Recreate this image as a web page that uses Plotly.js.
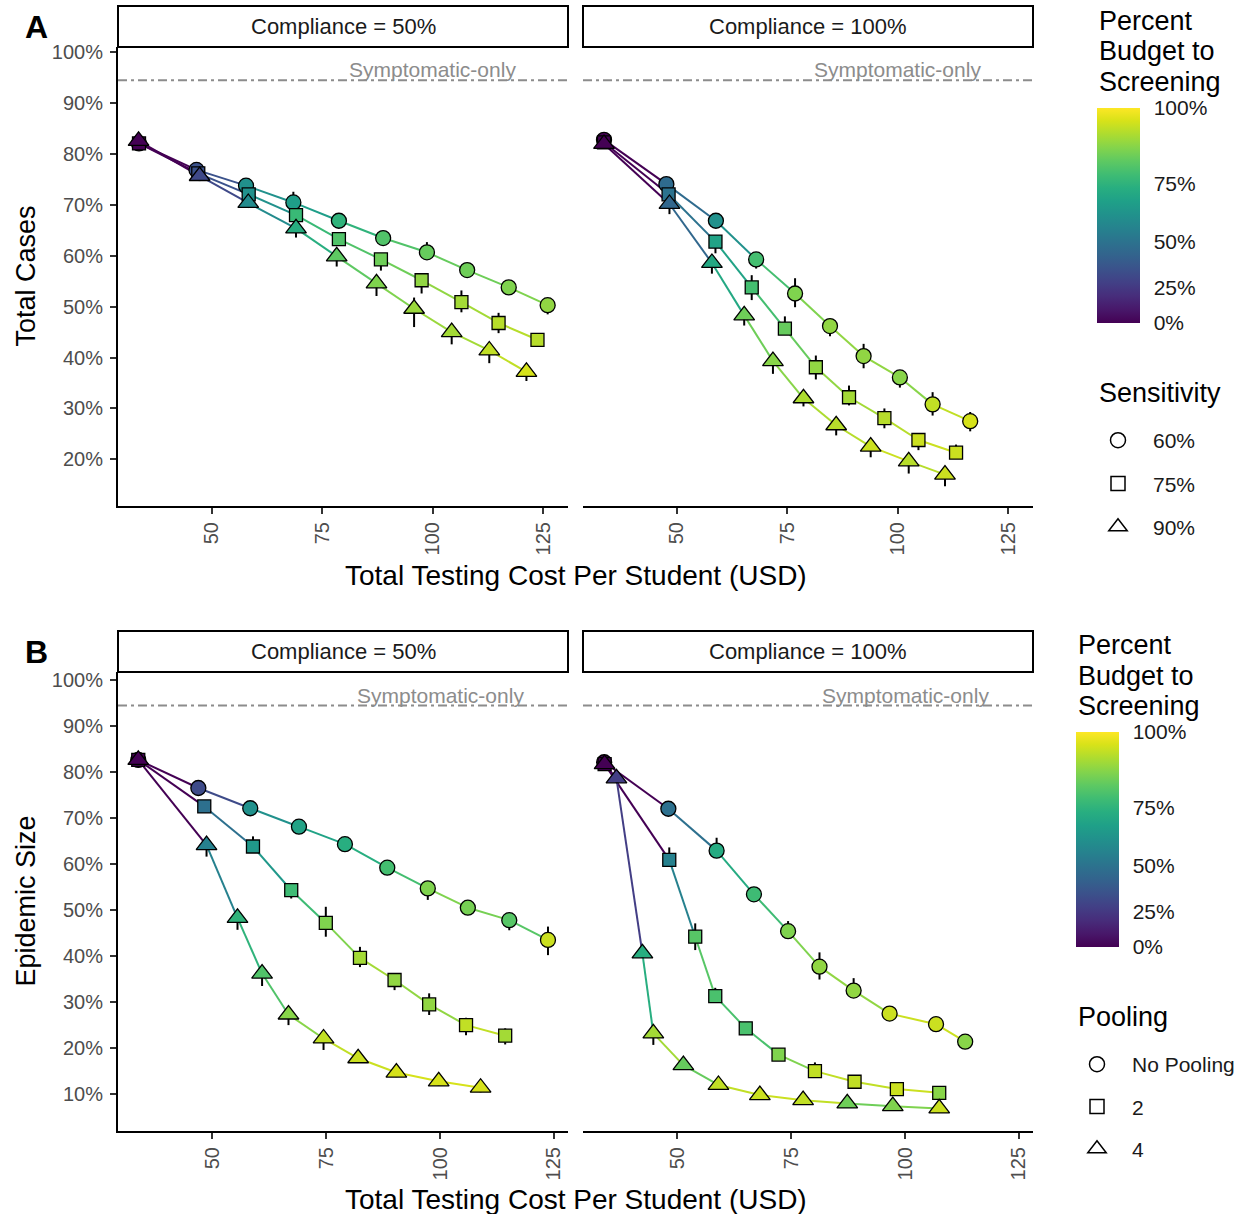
<!DOCTYPE html>
<html><head><meta charset="utf-8">
<script src="https://cdn.plot.ly/plotly-3.0.1.min.js"></script>
<style>html,body{margin:0;padding:0;background:#fff}#chart{width:1248px;height:1214px}</style>
</head><body><div id="chart"></div>
<script>
// ================= DATA =================
const complianceLabels = ['Compliance = 50%', 'Compliance = 100%'];
const sensitivityLabels = ['60%', '75%', '90%'];
const poolingLabels = ['No Pooling', '2', '4'];
const budgetTickValues = [0, 25, 50, 75, 100];
const budgetTickLabels = ['0%', '25%', '50%', '75%', '100%'];
const costTicks = [50, 75, 100, 125];
const casesTicksA = [20, 30, 40, 50, 60, 70, 80, 90, 100];
const sizeTicksB = [10, 20, 30, 40, 50, 60, 70, 80, 90, 100];
const symptomaticOnly = [94.5, 94.4]; // panel A, panel B

// Panel A, compliance 50% (Total Cases, %)
const a50_cost_s60 = [33.6, 46.6, 57.8, 68.5, 78.8, 88.8, 98.7, 107.8, 117.2, 126.0];
const a50_cases_s60 = [82.1, 76.9, 73.8, 70.5, 66.9, 63.5, 60.7, 57.2, 53.8, 50.3];
const a50_budget_s60 = [0, 36, 62, 67, 75, 81, 84, 85, 87, 89];
const a50_errUp_s60 = [1, 1, 1, 2.1, 1, 1, 2, 1, 1, 1];
const a50_errDn_s60 = [1, 1, 1, 1.2, 1, 1, 1.2, 1, 1, 1.8];
const a50_cost_s75 = [33.6, 47.0, 58.4, 69.1, 78.8, 88.3, 97.5, 106.5, 114.9, 123.7];
const a50_cases_s75 = [82.1, 76.2, 72.1, 68.0, 63.3, 59.3, 55.2, 50.9, 46.8, 43.5];
const a50_budget_s75 = [0, 36, 62, 77, 81, 85, 89, 91, 93, 93];
const a50_errUp_s75 = [1, 1, 1, 1, 1, 1.2, 1, 2.3, 2, 1];
const a50_errDn_s75 = [1, 1, 1, 1, 1, 2.2, 2.6, 2, 2, 1.2];
const a50_cost_s90 = [33.5, 47.3, 58.3, 69.1, 78.3, 87.3, 95.8, 104.3, 112.8, 121.2];
const a50_cases_s90 = [82.6, 75.7, 70.4, 65.4, 59.9, 54.6, 49.6, 45.0, 41.4, 37.2];
const a50_budget_s90 = [0, 32, 60, 73, 83, 87, 90, 91, 94, 96];
const a50_errUp_s90 = [1, 1, 1, 1, 1, 1, 2.2, 1, 1, 1];
const a50_errDn_s90 = [1, 1, 1, 1.8, 2, 2.5, 3.6, 2.4, 2.5, 1.8];

// Panel A, compliance 100%
const a100_cost_s60 = [33.6, 47.7, 58.9, 68.0, 76.8, 84.7, 92.3, 100.5, 107.9, 116.4];
const a100_cases_s60 = [82.8, 74.1, 66.9, 59.3, 52.6, 46.2, 40.3, 36.1, 30.8, 27.5];
const a100_budget_s60 = [0, 47, 62, 79, 87, 89, 89, 88, 94, 96];
const a100_errUp_s60 = [1, 1, 1, 1.4, 3, 1, 2.4, 1, 2.4, 1.8];
const a100_errDn_s60 = [1, 1, 1, 1.8, 2.7, 2, 2.4, 2, 2.2, 2];
const a100_cost_s75 = [33.6, 48.2, 58.8, 67.0, 74.5, 81.5, 89.0, 97.0, 104.7, 113.2];
const a100_cases_s75 = [82.3, 72.1, 62.8, 53.8, 45.7, 38.1, 32.2, 28.1, 23.8, 21.3];
const a100_budget_s75 = [0, 50, 69, 79, 84, 89, 91, 93, 95, 95];
const a100_errUp_s75 = [1, 1, 1, 2.4, 2.4, 2.3, 2.3, 1.9, 1, 1.6];
const a100_errDn_s75 = [1, 1, 2.3, 2.5, 1, 2.4, 1.6, 2, 2, 1];
const a100_cost_s90 = [33.6, 48.4, 58.0, 65.3, 71.8, 78.7, 86.1, 93.9, 102.5, 110.7];
const a100_cases_s90 = [82.0, 70.2, 58.6, 48.3, 39.3, 32.0, 26.7, 22.5, 19.6, 17.0];
const a100_budget_s90 = [0, 45, 71, 85, 88, 92, 93, 95, 93, 95];
const a100_errUp_s90 = [1, 1, 1, 1, 1, 1, 1, 1, 1, 1];
const a100_errDn_s90 = [1, 2, 2.1, 2, 2.5, 1.6, 2, 2.1, 2.4, 2.3];

// Panel B, compliance 50% (Epidemic Size, %)
const b50_cost_none = [33.7, 46.9, 58.3, 69.0, 79.1, 88.4, 97.3, 106.1, 115.2, 123.7];
const b50_size_none = [82.6, 76.5, 72.1, 68.1, 64.3, 59.2, 54.7, 50.5, 47.8, 43.5];
const b50_budget_none = [0, 33, 62, 69, 73, 79, 87, 86, 82, 95];
const b50_errUp_none = [1, 1, 1, 1, 1, 1, 1, 1, 1, 2.9];
const b50_errDn_none = [1, 1, 1, 1, 1, 1, 2.5, 1, 2.2, 3.3];
const b50_cost_pool2 = [33.7, 48.2, 58.9, 67.3, 74.9, 82.4, 90.0, 97.6, 105.7, 114.3];
const b50_size_pool2 = [82.6, 72.5, 63.8, 54.3, 47.2, 39.6, 34.8, 29.5, 25.0, 22.7];
const b50_budget_pool2 = [0, 49, 65, 78, 87, 91, 89, 89, 94, 91];
const b50_errUp_pool2 = [1, 1, 2.2, 1, 3.5, 2.4, 1, 2.4, 1.6, 1.6];
const b50_errDn_pool2 = [1, 1, 1, 1.8, 3, 2, 2.2, 2.3, 2.2, 1.9];
const b50_cost_pool4 = [33.7, 48.7, 55.5, 60.9, 66.7, 74.4, 82.0, 90.4, 99.7, 108.9];
const b50_size_pool4 = [82.6, 64.1, 48.3, 36.2, 27.3, 22.1, 17.8, 14.7, 12.8, 11.4];
const b50_budget_pool4 = [0, 56, 75, 81, 88, 94, 95, 96, 96, 96];
const b50_errUp_pool4 = [1, 1, 1, 1, 1, 1, 1, 1, 1, 1];
const b50_errDn_pool4 = [1, 2.5, 2.6, 2.7, 2.3, 2.5, 1, 1, 1, 1];

// Panel B, compliance 100%
const b100_cost_none = [33.9, 48.0, 58.6, 66.8, 74.3, 81.2, 88.7, 96.6, 106.8, 113.2];
const b100_size_none = [82.1, 72.0, 62.9, 53.4, 45.4, 37.7, 32.5, 27.5, 25.2, 21.4];
const b100_budget_none = [0, 49, 72, 78, 87, 89, 89, 95, 95, 88];
const b100_errUp_none = [1, 1, 2.8, 1, 2.2, 3.1, 2.7, 1, 1, 1];
const b100_errDn_none = [1, 1, 1, 1, 1, 2.8, 1, 1, 1, 1];
const b100_cost_pool2 = [34.0, 48.2, 53.9, 58.3, 65.0, 72.2, 80.2, 88.9, 98.2, 107.5];
const b100_size_pool2 = [81.7, 60.9, 44.2, 31.3, 24.3, 18.6, 15.0, 12.7, 11.1, 10.3];
const b100_budget_pool2 = [0, 56, 82, 80, 80, 87, 94, 94, 95, 88];
const b100_errUp_pool2 = [1, 2.7, 2.9, 1.8, 1, 1, 1.9, 1, 1, 1];
const b100_errDn_pool2 = [1, 1, 2.9, 1, 1, 1, 1, 1, 1, 1];
const b100_cost_pool4 = [34.0, 36.6, 42.3, 44.7, 51.3, 59.0, 68.1, 77.6, 87.3, 97.3, 107.5];
const b100_size_pool4 = [81.7, 78.6, 40.6, 23.2, 16.3, 12.0, 9.8, 8.7, 8.0, 7.4, 6.9];
const b100_budget_pool4 = [0, 27, 73, 91, 84, 94, 95, 94, 85, 87, 95];
const b100_errUp_pool4 = [1, 1, 1, 1, 1, 1, 1, 1, 1, 1, 1];
const b100_errDn_pool4 = [1, 1, 1, 2.5, 1, 1, 1, 1, 1, 1, 1];

// ================= SCALES / STYLE =================
const VIR_HEX = ['#440154','#48186a','#472d7b','#424086','#3b528b','#33638d','#2c728e','#26828e','#21918c','#1fa088','#28ae80','#3fbc73','#5ec962','#84d44b','#addc30','#d8e219','#fde725'];
const VIR_POS = VIR_HEX.map((h, i) => i === VIR_HEX.length - 1 ? 1 : i * 16 / 255);
const VIRIDIS = VIR_POS.map((p, i) => [p, VIR_HEX[i]]);
function hexToRgb(h) { return [parseInt(h.slice(1,3),16), parseInt(h.slice(3,5),16), parseInt(h.slice(5,7),16)]; }
function viridisAt(t) {
  t = Math.max(0, Math.min(1, t));
  for (let i = 0; i < VIR_POS.length - 1; i++) {
    if (t <= VIR_POS[i+1]) {
      const f = (t - VIR_POS[i]) / (VIR_POS[i+1] - VIR_POS[i]);
      const a = hexToRgb(VIR_HEX[i]), b = hexToRgb(VIR_HEX[i+1]);
      return 'rgb(' + a.map((v, k) => Math.round(v + (b[k] - v) * f)).join(',') + ')';
    }
  }
  return VIR_HEX[VIR_HEX.length - 1];
}
// exponential colour scale used by the legend (ticks are non-uniform)
function budgetScale(p) { return (Math.exp(p / 100) - 1) / (Math.E - 1); }

const W = 1248, H = 1214;
const px = v => v / W;
const py = v => (H - v) / H;
const FONT = 'Liberation Sans, Arial, sans-serif';
const SYM = ['circle', 'square', 'triangle-up'];
const MSIZE = {'circle': 15, 'square': 13, 'triangle-up': 18};

const panels = [
  {xa: 'x', ya: 'y', cax: 'coloraxis', series: [
    [a50_cost_s60, a50_cases_s60, a50_budget_s60, a50_errUp_s60, a50_errDn_s60],
    [a50_cost_s75, a50_cases_s75, a50_budget_s75, a50_errUp_s75, a50_errDn_s75],
    [a50_cost_s90, a50_cases_s90, a50_budget_s90, a50_errUp_s90, a50_errDn_s90]]},
  {xa: 'x2', ya: 'y2', cax: 'coloraxis', series: [
    [a100_cost_s60, a100_cases_s60, a100_budget_s60, a100_errUp_s60, a100_errDn_s60],
    [a100_cost_s75, a100_cases_s75, a100_budget_s75, a100_errUp_s75, a100_errDn_s75],
    [a100_cost_s90, a100_cases_s90, a100_budget_s90, a100_errUp_s90, a100_errDn_s90]]},
  {xa: 'x3', ya: 'y3', cax: 'coloraxis2', series: [
    [b50_cost_none, b50_size_none, b50_budget_none, b50_errUp_none, b50_errDn_none],
    [b50_cost_pool2, b50_size_pool2, b50_budget_pool2, b50_errUp_pool2, b50_errDn_pool2],
    [b50_cost_pool4, b50_size_pool4, b50_budget_pool4, b50_errUp_pool4, b50_errDn_pool4]]},
  {xa: 'x4', ya: 'y4', cax: 'coloraxis2', series: [
    [b100_cost_none, b100_size_none, b100_budget_none, b100_errUp_none, b100_errDn_none],
    [b100_cost_pool2, b100_size_pool2, b100_budget_pool2, b100_errUp_pool2, b100_errDn_pool2],
    [b100_cost_pool4, b100_size_pool4, b100_budget_pool4, b100_errUp_pool4, b100_errDn_pool4]]}
];

const lineTraces = [], errTraces = [], markerTraces = [];
panels.forEach(p => {
  p.series.forEach((s, si) => {
    const [xs, ys, bs, eu, ed] = s;
    for (let i = 0; i < xs.length - 1; i++) {
      lineTraces.push({x: [xs[i], xs[i+1]], y: [ys[i], ys[i+1]], xaxis: p.xa, yaxis: p.ya,
        mode: 'lines', line: {color: viridisAt(budgetScale(bs[i])), width: 2},
        showlegend: false, hoverinfo: 'skip'});
    }
    errTraces.push({x: xs, y: ys, xaxis: p.xa, yaxis: p.ya, mode: 'markers',
      marker: {size: 2, opacity: 0}, showlegend: false, hoverinfo: 'skip',
      error_y: {type: 'data', symmetric: false, array: eu, arrayminus: ed, color: '#000', thickness: 2, width: 0}});
    markerTraces.push({x: xs, y: ys, xaxis: p.xa, yaxis: p.ya, mode: 'markers', showlegend: false,
      marker: {symbol: SYM[si], size: MSIZE[SYM[si]], color: bs.map(budgetScale), coloraxis: p.cax,
        line: {color: '#000', width: 1.3}}});
  });
});

const LEG_SIZE = {'circle': 15, 'square': 14, 'triangle-up': 18};
const legendTraces = [];
sensitivityLabels.forEach((lab, i) => legendTraces.push({x: [null], y: [null], xaxis: 'x', yaxis: 'y',
  mode: 'markers', name: lab, legend: 'legend', legendgroup: 'sens' + i, showlegend: true,
  marker: {symbol: SYM[i] + '-open', size: LEG_SIZE[SYM[i]], color: '#000', line: {width: 1.5, color: '#000'}}}));
poolingLabels.forEach((lab, i) => legendTraces.push({x: [null], y: [null], xaxis: 'x3', yaxis: 'y3',
  mode: 'markers', name: lab, legend: 'legend2', legendgroup: 'pool' + i, showlegend: true,
  marker: {symbol: SYM[i] + '-open', size: LEG_SIZE[SYM[i]], color: '#000', line: {width: 1.5, color: '#000'}}}));

const data = [...lineTraces, ...errTraces, ...markerTraces, ...legendTraces];

// ================= LAYOUT =================
function xAxis(d0, d1, anchor, range) {
  return {domain: [px(d0), px(d1)], anchor: anchor, range: range, showline: true, linewidth: 2, linecolor: '#000',
    ticks: 'outside', ticklen: 6, tickwidth: 2, tickcolor: '#333', tickvals: costTicks, tickangle: -90,
    tickfont: {family: FONT, size: 20, color: '#4d4d4d'}, showgrid: false, zeroline: false, fixedrange: true};
}
function yAxis(t0, t1, anchor, range, ticks, show) {
  const ax = {domain: [py(t1), py(t0)], anchor: anchor, range: range, showgrid: false, zeroline: false, fixedrange: true};
  if (show) Object.assign(ax, {showline: true, linewidth: 2, linecolor: '#000', ticks: 'outside', ticklen: 6,
    tickwidth: 2, tickcolor: '#333', tickmode: 'array', tickvals: ticks, ticktext: ticks.map(v => v + '%'),
    ticklabelstandoff: 3, tickfont: {family: FONT, size: 20, color: '#4d4d4d'}});
  else Object.assign(ax, {showline: false, ticks: '', showticklabels: false});
  return ax;
}
function colorAxis(xLeft, yCenter) {
  return {colorscale: VIRIDIS, cmin: 0, cmax: 1, showscale: true,
    colorbar: {x: px(xLeft), xanchor: 'left', xpad: 0, y: py(yCenter), yanchor: 'middle', ypad: 0,
      thickness: 43, thicknessmode: 'pixels', len: 215, lenmode: 'pixels', outlinewidth: 0,
      tickvals: budgetTickValues.map(budgetScale), ticktext: budgetTickLabels,
      ticks: 'outside', ticklen: 10, tickwidth: 1, tickcolor: 'rgba(0,0,0,0)',
      tickfont: {family: FONT, size: 21, color: '#1a1a1a'}, title: {text: ''}}};
}

const rangeXA = [28.85, 130.6], rangeYA = [10.82, 101.06];
const rangeXB = [29.25, 128.1], rangeYB = [2.0, 101.7];

const shapes = [], annotations = [];
function strip(x0, x1, y0, y1, text) {
  shapes.push({type: 'rect', xref: 'paper', yref: 'paper', x0: px(x0), x1: px(x1), y0: py(y1), y1: py(y0),
    line: {color: '#000', width: 2}, fillcolor: '#fff'});
  annotations.push({xref: 'paper', yref: 'paper', x: px((x0 + x1) / 2), y: py((y0 + y1) / 2), text: text,
    showarrow: false, xanchor: 'center', yanchor: 'middle', font: {family: FONT, size: 22, color: '#1a1a1a'}});
}
strip(118, 568, 6, 47, complianceLabels[0]);
strip(583, 1033, 6, 47, complianceLabels[1]);
strip(118, 568, 631, 672, complianceLabels[0]);
strip(583, 1033, 631, 672, complianceLabels[1]);

[['x', 'y', 0], ['x2', 'y2', 0], ['x3', 'y3', 1], ['x4', 'y4', 1]].forEach(([xa, ya, k]) => {
  shapes.push({type: 'line', xref: xa + ' domain', yref: ya, x0: 0, x1: 1, y0: symptomaticOnly[k], y1: symptomaticOnly[k],
    line: {color: '#8c8c8c', width: 2, dash: '9px,4px,3px,4px'}});
  annotations.push({xref: xa, yref: ya, x: 100, y: symptomaticOnly[k], text: 'Symptomatic-only', showarrow: false,
    xanchor: 'center', yanchor: 'bottom', yshift: -3, font: {family: FONT, size: 21, color: '#8c8c8c'}});
});

// white guide ticks inside the colour bars (positions follow the colour scale)
function barTicks(x0, x1, yTop, yBot) {
  [25, 50, 75].forEach(v => {
    const yy = yBot - budgetScale(v) * (yBot - yTop);
    [[x0, x0 + 8], [x1 - 8, x1]].forEach(([a, b]) => shapes.push({type: 'line', xref: 'paper', yref: 'paper',
      x0: px(a), x1: px(b), y0: py(yy), y1: py(yy), line: {color: 'rgba(255,255,255,0.85)', width: 1.5}}));
  });
}
barTicks(1097, 1140, 108, 323);
barTicks(1076, 1119, 732, 947);

function txt(x, y, text, size, opts) {
  annotations.push(Object.assign({xref: 'paper', yref: 'paper', x: px(x), y: py(y), text: text, showarrow: false,
    xanchor: 'center', yanchor: 'middle', font: {family: FONT, size: size, color: '#000'}}, opts || {}));
}
txt(36, 27, '<b>A</b>', 32);
txt(36, 652, '<b>B</b>', 32);
txt(575.5, 575, 'Total Testing Cost Per Student (USD)', 28);
txt(575.5, 1199, 'Total Testing Cost Per Student (USD)', 28);
txt(25, 276.5, 'Total Cases', 27, {textangle: -90});
txt(25, 901.5, 'Epidemic Size', 27, {textangle: -90});
['Percent', 'Budget to', 'Screening'].forEach((t, i) => {
  txt(1097, 21 + i * 30.5, t, 27, {xanchor: 'left'});
  txt(1076, 645 + i * 30.5, t, 27, {xanchor: 'left'});
});
txt(1097, 393, 'Sensitivity', 27, {xanchor: 'left'});
txt(1076, 1017, 'Pooling', 27, {xanchor: 'left'});

const layout = {
  width: W, height: H, autosize: false, margin: {l: 0, r: 0, t: 0, b: 0},
  paper_bgcolor: '#fff', plot_bgcolor: 'rgba(0,0,0,0)',
  font: {family: FONT, color: '#000'},
  xaxis: xAxis(118, 568, 'y', rangeXA),
  xaxis2: xAxis(583, 1033, 'y2', rangeXA),
  xaxis3: xAxis(118, 568, 'y3', rangeXB),
  xaxis4: xAxis(583, 1033, 'y4', rangeXB),
  yaxis: yAxis(47, 506, 'x', rangeYA, casesTicksA, true),
  yaxis2: yAxis(47, 506, 'x2', rangeYA, casesTicksA, false),
  yaxis3: yAxis(672, 1131, 'x3', rangeYB, sizeTicksB, true),
  yaxis4: yAxis(672, 1131, 'x4', rangeYB, sizeTicksB, false),
  coloraxis: colorAxis(1097, 215.5),
  coloraxis2: colorAxis(1076, 839.5),
  legend: {x: px(1083), xanchor: 'left', y: py(420), yanchor: 'top', bgcolor: 'rgba(0,0,0,0)',
    itemwidth: 60, font: {family: FONT, size: 21, color: '#1a1a1a'}, tracegroupgap: 13, itemclick: false},
  legend2: {x: px(1062), xanchor: 'left', y: py(1044), yanchor: 'top', bgcolor: 'rgba(0,0,0,0)',
    itemwidth: 60, font: {family: FONT, size: 21, color: '#1a1a1a'}, tracegroupgap: 12, itemclick: false},
  shapes: shapes,
  annotations: annotations,
  showlegend: true
};

Plotly.newPlot('chart', data, layout, {displayModeBar: false, staticPlot: true});
</script>
</body></html>
